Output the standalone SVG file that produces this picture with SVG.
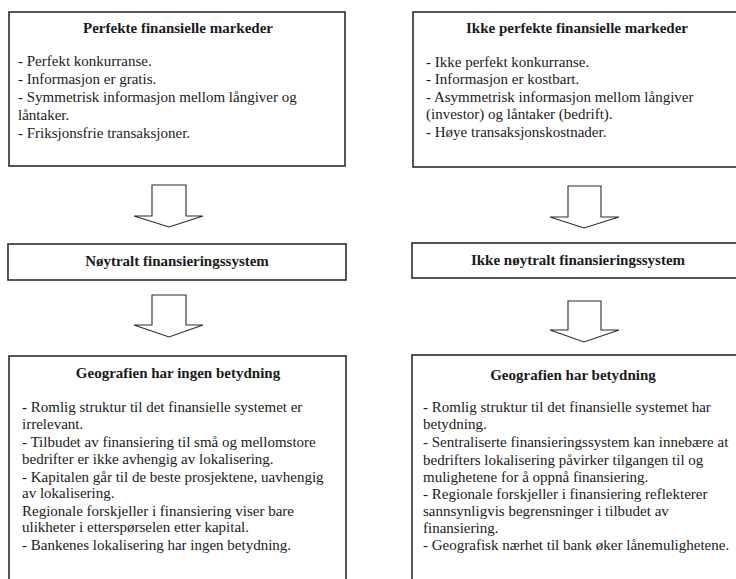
<svg xmlns="http://www.w3.org/2000/svg" width="736" height="579" viewBox="0 0 736 579">
<style>
.box{fill:#fff;stroke:#2b2b2b;stroke-width:1.6}
.arr{fill:#fff;stroke:#2b2b2b;stroke-width:1.1;stroke-linejoin:miter}
.t{font-weight:bold;font-size:15px;fill:#1a1a1a;text-anchor:middle}
.b{font-size:15px;fill:#1a1a1a}
</style>
<rect width="736" height="579" fill="#fff"/>
<g font-family="Liberation Serif, Times New Roman, DejaVu Serif, serif">
<g id="perfekte">
<rect class="box" x="9" y="12" width="336" height="154"/>
<text class="t" x="178" y="33">Perfekte finansielle markeder</text>
<text class="b" x="18" y="66">- Perfekt konkurranse.</text>
<text class="b" x="18" y="84">- Informasjon er gratis.</text>
<text class="b" x="18" y="102">- Symmetrisk informasjon mellom långiver og</text>
<text class="b" x="18" y="120">låntaker.</text>
<text class="b" x="18" y="138">- Friksjonsfrie transaksjoner.</text>
</g>
<g id="ikke-perfekte">
<rect class="box" x="413" y="12" width="330" height="155"/>
<text class="t" x="577" y="33">Ikke perfekte finansielle markeder</text>
<text class="b" x="426" y="67">- Ikke perfekt konkurranse.</text>
<text class="b" x="426" y="84">- Informasjon er kostbart.</text>
<text class="b" x="426" y="102">- Asymmetrisk informasjon mellom långiver</text>
<text class="b" x="426" y="119">(investor) og låntaker (bedrift).</text>
<text class="b" x="426" y="137">- Høye transaksjonskostnader.</text>
</g>
<g id="noytralt">
<rect class="box" x="8" y="244" width="338" height="36"/>
<text class="t" x="177" y="266">Nøytralt finansieringssystem</text>
</g>
<g id="ikke-noytralt">
<rect class="box" x="412" y="243" width="330" height="35"/>
<text class="t" x="578" y="265">Ikke nøytralt finansieringssystem</text>
</g>
<g id="ingen-betydning">
<rect class="box" x="9" y="356" width="337" height="230"/>
<text class="t" x="178" y="378">Geografien har ingen betydning</text>
<text class="b" x="22" y="412">- Romlig struktur til det finansielle systemet er</text>
<text class="b" x="22" y="429">irrelevant.</text>
<text class="b" x="22" y="447">- Tilbudet av finansiering til små og mellomstore</text>
<text class="b" x="22" y="464">bedrifter er ikke avhengig av lokalisering.</text>
<text class="b" x="22" y="482">- Kapitalen går til de beste prosjektene, uavhengig</text>
<text class="b" x="22" y="498">av lokalisering.</text>
<text class="b" x="22" y="516">Regionale forskjeller i finansiering viser bare</text>
<text class="b" x="22" y="532">ulikheter i etterspørselen etter kapital.</text>
<text class="b" x="22" y="550">- Bankenes lokalisering har ingen betydning.</text>
</g>
<g id="betydning">
<rect class="box" x="412" y="355" width="330" height="230"/>
<text class="t" x="573" y="380">Geografien har betydning</text>
<text class="b" x="423" y="412">- Romlig struktur til det finansielle systemet har</text>
<text class="b" x="423" y="429">betydning.</text>
<text class="b" x="423" y="447">- Sentraliserte finansieringssystem kan innebære at</text>
<text class="b" x="423" y="465">bedrifters lokalisering påvirker tilgangen til og</text>
<text class="b" x="423" y="482">mulighetene for å oppnå finansiering.</text>
<text class="b" x="423" y="499">- Regionale forskjeller i finansiering reflekterer</text>
<text class="b" x="423" y="516">sannsynligvis begrensninger i tilbudet av</text>
<text class="b" x="423" y="533">finansiering.</text>
<text class="b" x="423" y="550">- Geografisk nærhet til bank øker lånemulighetene.</text>
</g>
</g>
<g id="connectors">
<polygon class="arr" points="152,185 186,185 186,216 203,216 169,227 134,216 152,216"/>
<polygon class="arr" points="152,295 186,295 186,325 203,325 169,337 134,325 152,325"/>
<polygon class="arr" points="568,186 601,186 601,217 619,217 584,228 550,217 568,217"/>
<polygon class="arr" points="568,301 601,301 601,330 619,330 584,342 550,330 568,330"/>
</g>
</svg>
